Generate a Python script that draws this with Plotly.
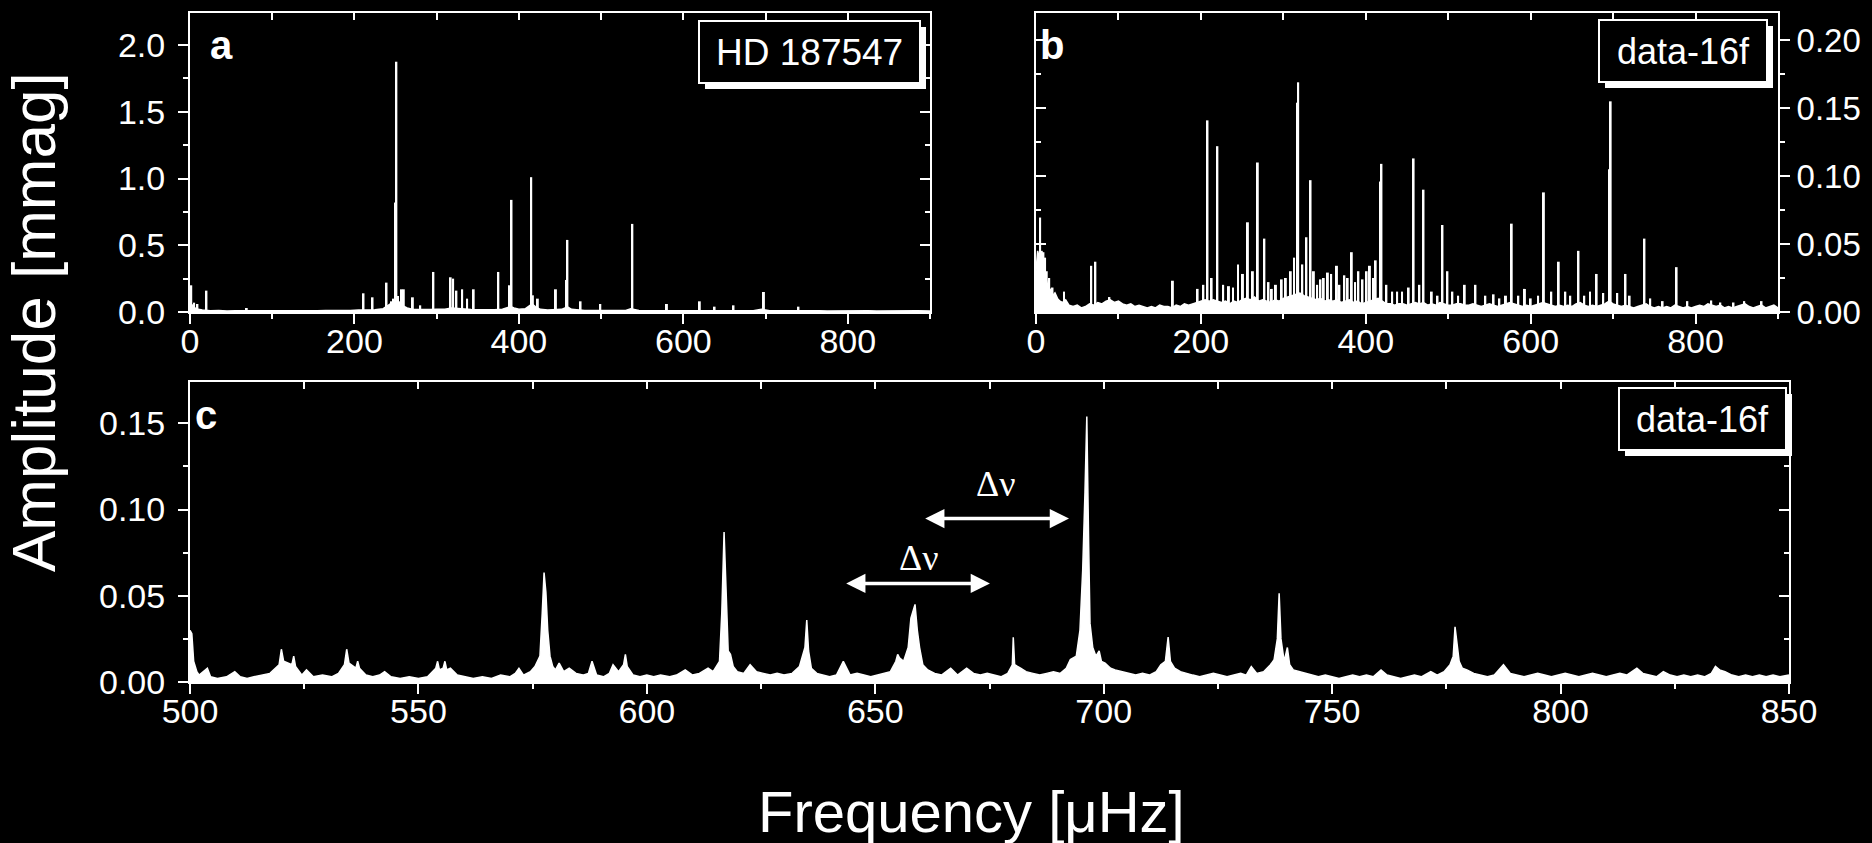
import plotly.graph_objects as go

# ---------------- data ----------------
# Panel a: HD 187547 amplitude spectrum (mmag) - discrete peaks
peaks_a_freq = [1.5, 5, 9, 20, 69, 211, 222, 239, 245, 248, 249.5, 251, 253, 255, 257, 260,
                271, 280, 296, 317, 320, 324, 331, 337, 345, 375, 388, 391, 415, 417, 423,
                445, 458, 459, 475, 499, 538, 580, 620, 638, 661, 698, 740]
peaks_a_amp = [0.20, 0.07, 0.06, 0.16, 0.03, 0.14, 0.11, 0.22, 0.08, 0.10, 0.82, 1.875, 0.12, 0.08, 0.17, 0.17,
               0.11, 0.05, 0.30, 0.26, 0.25, 0.16, 0.17, 0.10, 0.17, 0.30, 0.20, 0.84, 1.01, 0.125, 0.10,
               0.17, 0.24, 0.54, 0.08, 0.06, 0.66, 0.06, 0.08, 0.04, 0.05, 0.15, 0.04]
noise_a = [(0, 0.02), (3, 0.05), (6, 0.03), (10, 0.02), (15, 0.015), (25, 0.01), (35, 0.012), (45, 0.008),
           (55, 0.01), (65, 0.012), (75, 0.01), (85, 0.009), (95, 0.011), (105, 0.008), (115, 0.01),
           (125, 0.009), (135, 0.008), (145, 0.01), (155, 0.009), (165, 0.011), (175, 0.01), (185, 0.009),
           (195, 0.012), (205, 0.015), (215, 0.014), (225, 0.016), (235, 0.025), (242, 0.05), (246, 0.07),
           (250, 0.09), (254, 0.07), (258, 0.05), (264, 0.03), (270, 0.02), (278, 0.018), (285, 0.016),
           (292, 0.018), (300, 0.02), (310, 0.02), (318, 0.03), (326, 0.025), (334, 0.02), (342, 0.018),
           (350, 0.016), (360, 0.014), (370, 0.016), (380, 0.02), (386, 0.03), (390, 0.04), (394, 0.03),
           (400, 0.02), (408, 0.025), (412, 0.04), (416, 0.06), (420, 0.04), (426, 0.02), (435, 0.015),
           (445, 0.016), (452, 0.02), (456, 0.03), (460, 0.035), (464, 0.02), (470, 0.015), (480, 0.012),
           (490, 0.011), (500, 0.012), (510, 0.01), (520, 0.011), (530, 0.012), (536, 0.025), (540, 0.02),
           (546, 0.011), (555, 0.01), (565, 0.009), (575, 0.01), (585, 0.009), (595, 0.01), (605, 0.009),
           (615, 0.01), (625, 0.009), (635, 0.01), (645, 0.009), (655, 0.011), (665, 0.01), (675, 0.009),
           (685, 0.01), (695, 0.02), (700, 0.015), (705, 0.01), (715, 0.009), (725, 0.01), (735, 0.009),
           (745, 0.01), (755, 0.008), (765, 0.009), (775, 0.008), (785, 0.009), (795, 0.008), (805, 0.009),
           (815, 0.008), (825, 0.009), (835, 0.008), (845, 0.009), (855, 0.008), (865, 0.009), (875, 0.008),
           (885, 0.009), (900, 0.008)]

# Panel b: data-16f (0-900 muHz)
peaks_b_freq = [3, 5, 7, 9, 11, 13, 16, 20, 34, 67, 72, 89, 166, 196, 203, 208, 213, 220, 227, 234, 239,
                245, 251, 257, 263, 269, 277, 282, 286, 291, 298, 303, 309, 313, 317, 318, 323, 328, 333,
                337, 341, 345, 349, 354, 358, 365, 368, 374, 378, 383, 387, 391, 396, 401, 405, 409, 412,
                418, 419, 425, 432, 438, 444, 452, 458, 465, 470, 480, 487, 493, 499, 505, 512, 520, 533,
                545, 555, 562, 570, 577, 585, 593, 600, 609, 616, 625, 634, 642, 648, 658, 665, 672, 680,
                688, 695, 697, 705, 715, 720, 738, 745, 760, 777, 790, 819, 830, 846, 859, 880]
peaks_b_amp = [0.035, 0.0695, 0.045, 0.044, 0.040, 0.030, 0.025, 0.018, 0.015, 0.034, 0.037, 0.011, 0.023,
               0.017, 0.020, 0.141, 0.025, 0.122, 0.020, 0.019, 0.018, 0.035, 0.028, 0.066, 0.030, 0.110,
               0.054, 0.022, 0.017, 0.020, 0.024, 0.025, 0.030, 0.040, 0.154, 0.169, 0.035, 0.055, 0.097,
               0.030, 0.020, 0.024, 0.025, 0.029, 0.028, 0.034, 0.020, 0.027, 0.025, 0.044, 0.022, 0.030,
               0.024, 0.030, 0.034, 0.025, 0.038, 0.096, 0.109, 0.020, 0.015, 0.015, 0.015, 0.018, 0.113,
               0.020, 0.090, 0.015, 0.012, 0.064, 0.030, 0.015, 0.012, 0.020, 0.020, 0.012, 0.013, 0.010,
               0.012, 0.065, 0.012, 0.017, 0.010, 0.012, 0.088, 0.015, 0.037, 0.015, 0.012, 0.045, 0.012,
               0.015, 0.028, 0.014, 0.105, 0.155, 0.014, 0.028, 0.012, 0.054, 0.010, 0.008, 0.033, 0.008,
               0.0085, 0.007, 0.007, 0.008, 0.008]
noise_b = [(0, 0.030), (2, 0.045), (4, 0.040), (6, 0.035), (8, 0.040), (10, 0.030), (12, 0.025), (14, 0.020),
           (16, 0.015), (18, 0.017), (20, 0.012), (23, 0.014), (26, 0.010), (29, 0.008), (32, 0.007),
           (36, 0.009), (40, 0.005), (45, 0.004), (50, 0.005), (55, 0.003), (60, 0.004), (65, 0.006),
           (70, 0.005), (75, 0.007), (80, 0.006), (85, 0.008), (90, 0.009), (95, 0.007), (100, 0.008),
           (105, 0.006), (110, 0.005), (115, 0.006), (120, 0.004), (125, 0.005), (130, 0.004), (135, 0.003),
           (140, 0.004), (145, 0.003), (150, 0.005), (155, 0.004), (160, 0.004), (165, 0.003), (170, 0.005),
           (175, 0.004), (180, 0.006), (185, 0.005), (190, 0.006), (195, 0.007), (200, 0.008), (205, 0.009),
           (210, 0.008), (215, 0.009), (220, 0.008), (225, 0.007), (230, 0.008), (235, 0.006), (240, 0.008),
           (245, 0.007), (250, 0.009), (255, 0.010), (260, 0.009), (265, 0.011), (270, 0.008), (275, 0.009),
           (280, 0.008), (285, 0.007), (290, 0.009), (295, 0.008), (300, 0.010), (305, 0.011), (310, 0.012),
           (315, 0.013), (320, 0.014), (325, 0.012), (330, 0.011), (335, 0.010), (340, 0.009), (345, 0.010),
           (350, 0.008), (355, 0.009), (360, 0.008), (365, 0.009), (370, 0.007), (375, 0.008), (380, 0.009),
           (385, 0.007), (390, 0.008), (395, 0.006), (400, 0.007), (405, 0.008), (410, 0.009), (415, 0.010),
           (420, 0.008), (425, 0.006), (430, 0.006), (435, 0.005), (440, 0.006), (445, 0.006), (450, 0.005),
           (455, 0.006), (460, 0.007), (465, 0.006), (470, 0.007), (475, 0.005), (480, 0.006), (485, 0.005),
           (490, 0.007), (495, 0.006), (500, 0.005), (505, 0.005), (510, 0.006), (515, 0.006), (520, 0.005),
           (525, 0.005), (530, 0.006), (535, 0.005), (540, 0.004), (545, 0.005), (550, 0.006), (555, 0.005),
           (560, 0.004), (565, 0.005), (570, 0.006), (575, 0.007), (580, 0.006), (585, 0.005), (590, 0.004),
           (595, 0.005), (600, 0.004), (605, 0.005), (610, 0.006), (615, 0.007), (620, 0.006), (625, 0.005),
           (630, 0.004), (635, 0.005), (640, 0.004), (645, 0.005), (650, 0.004), (655, 0.006), (660, 0.007),
           (665, 0.005), (670, 0.004), (675, 0.005), (680, 0.004), (685, 0.005), (690, 0.006), (695, 0.008),
           (700, 0.006), (705, 0.005), (710, 0.004), (715, 0.005), (720, 0.004), (725, 0.003), (730, 0.004),
           (735, 0.005), (740, 0.006), (745, 0.004), (750, 0.003), (755, 0.004), (760, 0.003), (765, 0.004),
           (770, 0.003), (775, 0.005), (780, 0.004), (785, 0.003), (790, 0.004), (795, 0.003), (800, 0.004),
           (805, 0.005), (810, 0.004), (815, 0.006), (820, 0.005), (825, 0.004), (830, 0.005), (835, 0.003),
           (840, 0.004), (845, 0.003), (850, 0.004), (855, 0.005), (860, 0.006), (865, 0.004), (870, 0.003),
           (875, 0.004), (880, 0.005), (885, 0.003), (890, 0.004), (895, 0.005), (900, 0.003)]

# Panel c: data-16f zoom 500-850 muHz
peaks_c = [(500.0, 0.030), (500.4, 0.028), (500.8, 0.012), (501.5, 0.006), (503.8, 0.008), (509.8, 0.006),
           (519.5, 0.010), (520.0, 0.019), (520.5, 0.012), (522.3, 0.010), (522.7, 0.015), (523.1, 0.009),
           (525.5, 0.007), (533.8, 0.010), (534.3, 0.019), (534.8, 0.011), (536.3, 0.008), (536.7, 0.012),
           (537.1, 0.008), (542.6, 0.006), (553.8, 0.008), (554.2, 0.012), (554.6, 0.007), (555.4, 0.008),
           (555.8, 0.012), (556.2, 0.007), (557.0, 0.008), (572.0, 0.008), (575.5, 0.009), (576.0, 0.012),
           (576.6, 0.015), (577.1, 0.040), (577.5, 0.0635), (577.9, 0.052), (578.3, 0.030), (578.8, 0.015),
           (579.4, 0.009), (580.8, 0.011), (588.0, 0.012), (592.6, 0.010), (594.9, 0.010), (595.3, 0.016),
           (595.7, 0.009), (608.4, 0.007), (613.4, 0.008), (615.9, 0.012), (616.4, 0.040), (616.9, 0.087),
           (617.3, 0.050), (617.8, 0.018), (618.3, 0.016), (618.9, 0.009), (622.6, 0.010), (633.4, 0.009),
           (634.6, 0.020), (635.0, 0.036), (635.4, 0.018), (636.0, 0.008), (643.0, 0.012), (654.5, 0.012),
           (654.9, 0.016), (655.3, 0.014), (656.2, 0.012), (657.2, 0.020), (657.8, 0.037), (658.7, 0.045),
           (659.2, 0.030), (659.7, 0.020), (660.4, 0.010), (666.5, 0.008), (670.0, 0.008), (680.0, 0.010),
           (680.2, 0.026), (680.5, 0.010), (681.8, 0.008), (692.7, 0.013), (694.0, 0.015), (694.8, 0.030),
           (695.4, 0.065), (695.9, 0.110), (696.3, 0.154), (696.7, 0.080), (697.0, 0.034), (697.6, 0.020),
           (698.3, 0.015), (699.0, 0.018), (699.5, 0.012), (700.3, 0.011), (701.5, 0.008), (712.5, 0.010),
           (713.5, 0.012), (714.1, 0.026), (714.6, 0.012), (715.5, 0.008), (732.3, 0.009), (736.5, 0.010),
           (737.3, 0.013), (738.0, 0.025), (738.4, 0.0515), (738.8, 0.025), (739.5, 0.012), (740.2, 0.020),
           (740.7, 0.010), (741.5, 0.007), (760.7, 0.007), (771.6, 0.006), (775.8, 0.010), (776.5, 0.015),
           (776.9, 0.032), (777.3, 0.022), (777.8, 0.012), (778.5, 0.008), (787.5, 0.010), (816.7, 0.008),
           (833.9, 0.009), (834.8, 0.007)]
noise_c = [(502, 0.004), (504.5, 0.003), (506, 0.002), (508, 0.003), (511, 0.003), (512.5, 0.002), (514, 0.003),
           (516, 0.004), (517.5, 0.005), (524.5, 0.004), (527, 0.003), (529, 0.004), (531, 0.003), (532.5, 0.005),
           (538.5, 0.004), (540, 0.003), (541.5, 0.004), (544, 0.003), (546, 0.002), (548, 0.003), (550, 0.002),
           (552, 0.003), (558.5, 0.004), (560, 0.003), (562, 0.002), (564, 0.003), (566, 0.002), (568, 0.004),
           (570, 0.003), (571.2, 0.005), (573, 0.004), (574.5, 0.006), (580, 0.007), (581.8, 0.006), (583, 0.008),
           (584.5, 0.005), (586, 0.004), (587.2, 0.005), (589, 0.004), (590.5, 0.003), (591.8, 0.005),
           (593.8, 0.006), (597, 0.004), (598.5, 0.003), (600, 0.004), (601.5, 0.003), (603, 0.004),
           (605, 0.003), (606.5, 0.004), (610, 0.004), (611.5, 0.005), (614.5, 0.006), (619.8, 0.006),
           (621.2, 0.005), (624, 0.006), (625.5, 0.005), (627, 0.004), (628.5, 0.005), (630, 0.004),
           (631.8, 0.005), (637.2, 0.005), (638.5, 0.004), (640, 0.003), (641.5, 0.004), (644.5, 0.004),
           (646, 0.005), (647.5, 0.004), (649, 0.003), (650.5, 0.004), (652, 0.005), (653.3, 0.006),
           (661.5, 0.007), (663, 0.005), (664.5, 0.004), (668, 0.004), (669, 0.006), (671.5, 0.005),
           (673, 0.004), (674.5, 0.005), (676, 0.004), (677.5, 0.003), (679, 0.005), (683, 0.006),
           (684.5, 0.005), (686, 0.004), (687.5, 0.005), (689, 0.006), (690.5, 0.005), (691.8, 0.008),
           (702.5, 0.007), (704, 0.006), (705.5, 0.005), (707, 0.004), (708.5, 0.005), (710, 0.004),
           (711.5, 0.006), (716.8, 0.006), (718, 0.005), (719.5, 0.004), (721, 0.003), (722.5, 0.004),
           (724, 0.005), (725.5, 0.004), (727, 0.003), (728.5, 0.004), (730, 0.005), (731.2, 0.004),
           (733.5, 0.005), (735, 0.006), (742.8, 0.006), (744, 0.005), (745.5, 0.004), (747, 0.003),
           (748.5, 0.004), (750, 0.003), (751.5, 0.002), (753, 0.003), (754.5, 0.004), (756, 0.003),
           (757.5, 0.004), (759, 0.003), (762, 0.004), (763.5, 0.003), (765, 0.002), (766.5, 0.003),
           (768, 0.004), (769.5, 0.003), (773, 0.004), (774.5, 0.006), (779.5, 0.007), (781, 0.005),
           (782.5, 0.004), (784, 0.003), (785.5, 0.004), (789, 0.005), (790.5, 0.004), (792, 0.003),
           (793.5, 0.004), (795, 0.005), (796.5, 0.004), (798, 0.003), (799.5, 0.004), (801, 0.005),
           (802.5, 0.004), (804, 0.003), (805.5, 0.004), (807, 0.005), (808.5, 0.004), (810, 0.003),
           (811.5, 0.004), (813, 0.005), (814.5, 0.004), (818, 0.005), (819.5, 0.004), (821, 0.003),
           (822.5, 0.006), (824, 0.004), (825.5, 0.003), (827, 0.004), (828.5, 0.003), (830, 0.004),
           (831.5, 0.003), (833, 0.005), (836, 0.006), (837.5, 0.004), (839, 0.003), (840.5, 0.004),
           (842, 0.003), (843.5, 0.004), (845, 0.003), (846.5, 0.004), (848, 0.003), (850, 0.004)]

# Delta-nu arrows in panel c: (start, end, height)
dnu_arrows = [(643.3, 675.1, 0.0572), (660.6, 692.4, 0.0948)]
dnu_labels = [(659.5, 0.0720), (676.4, 0.1150)]

panel_letters = ["a", "b", "c"]
box_labels = ["HD 187547", "data-16f", "data-16f"]

# ---------------- figure ----------------
W, H = 1872, 843
def px(x):
    return x / W
def py(y):
    return 1 - y / H

SANS = "Liberation Sans, Arial, sans-serif"
WHITE = "white"
TICKFONT = dict(family=SANS, size=34, color=WHITE)

fig = go.Figure()

def spectrum(points, xa, ya):
    pts = sorted(points)
    fig.add_trace(go.Scatter(x=[p[0] for p in pts], y=[p[1] for p in pts], mode="lines",
                             line=dict(color=WHITE, width=1.5), fill="tozeroy", fillcolor=WHITE,
                             xaxis=xa, yaxis=ya, hoverinfo="skip"))

spectrum(noise_a, "x", "y")
fig.add_trace(go.Bar(x=peaks_a_freq, y=peaks_a_amp, width=2.4, marker=dict(color=WHITE, line=dict(width=0)),
                     xaxis="x", yaxis="y"))
spectrum(noise_b, "x2", "y2")
fig.add_trace(go.Bar(x=peaks_b_freq, y=peaks_b_amp, width=2.4, marker=dict(color=WHITE, line=dict(width=0)),
                     xaxis="x2", yaxis="y2"))
spectrum(noise_c + peaks_c, "x3", "y3")

# empty traces so overlay axes (inward mirrored ticks) are drawn
for xa, ya in [("x4", "y"), ("x", "y4"), ("x5", "y2"), ("x2", "y5"), ("x6", "y3"), ("x3", "y6")]:
    fig.add_trace(go.Scatter(x=[], y=[], xaxis=xa, yaxis=ya, showlegend=False, hoverinfo="skip"))

def main_axis(**kw):
    d = dict(showline=True, linecolor=WHITE, linewidth=2, mirror=True, ticks="outside", ticklen=10,
             tickwidth=2, tickcolor=WHITE, showgrid=False, zeroline=False, tickfont=TICKFONT,
             automargin=False)
    d.update(kw)
    return d

def overlay_axis(**kw):
    d = dict(showline=False, ticks="inside", tickwidth=2, tickcolor=WHITE, showgrid=False, zeroline=False,
             showticklabels=False, automargin=False)
    d.update(kw)
    return d

dom_xa = [px(190), px(930)]
dom_xb = [px(1036), px(1778)]
dom_xc = [px(190), px(1789)]
dom_yab = [py(312), py(13)]
dom_yc = [py(682), py(382)]

rng_a = [0, 2.24]
rng_b = [0, 0.22]
rng_c = [0, 0.174]

MINOR_OUT = dict(ticks="outside", ticklen=5, tickwidth=2, tickcolor=WHITE, showgrid=False)
MINOR_IN = dict(ticks="inside", ticklen=5, tickwidth=2, tickcolor=WHITE, showgrid=False)
XSTAND = -12

fig.update_layout(
    width=W, height=H, margin=dict(l=0, r=0, t=0, b=0, autoexpand=False),
    paper_bgcolor="black", plot_bgcolor="black", showlegend=False, barmode="overlay",
    xaxis=main_axis(domain=dom_xa, anchor="y", range=[0, 900], tick0=0, dtick=200, ticklabelstandoff=XSTAND,
                    minor=dict(dtick=100, **MINOR_OUT)),
    yaxis=main_axis(domain=dom_yab, anchor="x", range=rng_a, tick0=0, dtick=0.5, tickformat=".1f",
                    ticklabelstandoff=6, minor=dict(dtick=0.25, **MINOR_OUT)),
    xaxis4=overlay_axis(overlaying="x", anchor="y", side="top", range=[0, 900], tick0=0, dtick=100, ticklen=7),
    yaxis4=overlay_axis(overlaying="y", anchor="x", side="right", range=rng_a, tick0=0, dtick=0.5, ticklen=10,
                        minor=dict(dtick=0.25, **MINOR_IN)),
    xaxis2=main_axis(domain=dom_xb, anchor="y2", range=[0, 900], tick0=0, dtick=200, ticklabelstandoff=XSTAND,
                     minor=dict(dtick=100, **MINOR_OUT)),
    yaxis2=main_axis(domain=dom_yab, anchor="x2", side="right", range=rng_b, tick0=0, dtick=0.05,
                     tickformat=".2f", ticklabelstandoff=0, tickfont=dict(family=SANS, size=33, color=WHITE),
                     minor=dict(dtick=0.025, **MINOR_OUT)),
    xaxis5=overlay_axis(overlaying="x2", anchor="y2", side="top", range=[0, 900], tick0=0, dtick=100, ticklen=7),
    yaxis5=overlay_axis(overlaying="y2", anchor="x2", side="left", range=rng_b, tick0=0, dtick=0.05, ticklen=10,
                        minor=dict(dtick=0.025, **MINOR_IN)),
    xaxis3=main_axis(domain=dom_xc, anchor="y3", range=[500, 850], tick0=500, dtick=50, ticklabelstandoff=XSTAND,
                     minor=dict(dtick=25, **MINOR_OUT)),
    yaxis3=main_axis(domain=dom_yc, anchor="x3", range=rng_c, tick0=0, dtick=0.05, tickformat=".2f",
                     ticklabelstandoff=6, minor=dict(dtick=0.025, **MINOR_OUT)),
    xaxis6=overlay_axis(overlaying="x3", anchor="y3", side="top", range=[500, 850], tick0=500, dtick=25, ticklen=7),
    yaxis6=overlay_axis(overlaying="y3", anchor="x3", side="right", range=rng_c, tick0=0, dtick=0.05, ticklen=10,
                        minor=dict(dtick=0.025, **MINOR_IN)),
)

# Delta-nu double arrows and labels
for (x0, x1, yv) in dnu_arrows:
    fig.add_annotation(x=x1, y=yv, ax=x0, ay=yv, xref="x3", yref="y3", axref="x3", ayref="y3",
                       text="", showarrow=True, arrowside="end+start", arrowhead=2, arrowsize=1.1,
                       arrowwidth=3.5, arrowcolor=WHITE)
for (xl, yl) in dnu_labels:
    fig.add_annotation(x=xl, y=yl, xref="x3", yref="y3", text="Δν", showarrow=False,
                       xanchor="center", yanchor="middle",
                       font=dict(family="Liberation Serif, Times New Roman, serif", size=36, color=WHITE))

# panel letters
for letter, (lx, ly) in zip(panel_letters, [(221, 45), (1052, 45), (206, 415)]):
    fig.add_annotation(x=px(lx), y=py(ly), xref="paper", yref="paper", text="<b>%s</b>" % letter,
                       xanchor="center", yanchor="middle",
                       showarrow=False, font=dict(family=SANS, size=40, color=WHITE))

# label boxes with drop shadow
boxes = [(699, 21, 920, 83), (1599, 20, 1767, 82), (1619, 388, 1786, 450)]
box_sizes = [37, 36, 36]
for text, (x0, y0, x1, y1), fs in zip(box_labels, boxes, box_sizes):
    fig.add_shape(type="rect", xref="paper", yref="paper", x0=px(x0 + 6), x1=px(x1 + 6),
                  y0=py(y1 + 6), y1=py(y0 + 6), fillcolor=WHITE, line=dict(width=0), layer="above")
    fig.add_shape(type="rect", xref="paper", yref="paper", x0=px(x0), x1=px(x1), y0=py(y1), y1=py(y0),
                  fillcolor="black", line=dict(color=WHITE, width=2), layer="above")
    fig.add_annotation(x=px((x0 + x1) / 2), y=py((y0 + y1) / 2), xref="paper", yref="paper", text=text,
                       xanchor="center", yanchor="middle",
                       showarrow=False, font=dict(family=SANS, size=fs, color=WHITE))

# axis titles
fig.add_annotation(x=px(33), y=py(322), xref="paper", yref="paper", text="Amplitude [mmag]", textangle=-90,
                   xanchor="center", yanchor="middle",
                   showarrow=False, font=dict(family=SANS, size=62, color=WHITE))
fig.add_annotation(x=px(971), y=py(811), xref="paper", yref="paper", text="Frequency [μHz]",
                   xanchor="center", yanchor="middle",
                   showarrow=False, font=dict(family=SANS, size=58, color=WHITE))

fig.write_html("out.html")
